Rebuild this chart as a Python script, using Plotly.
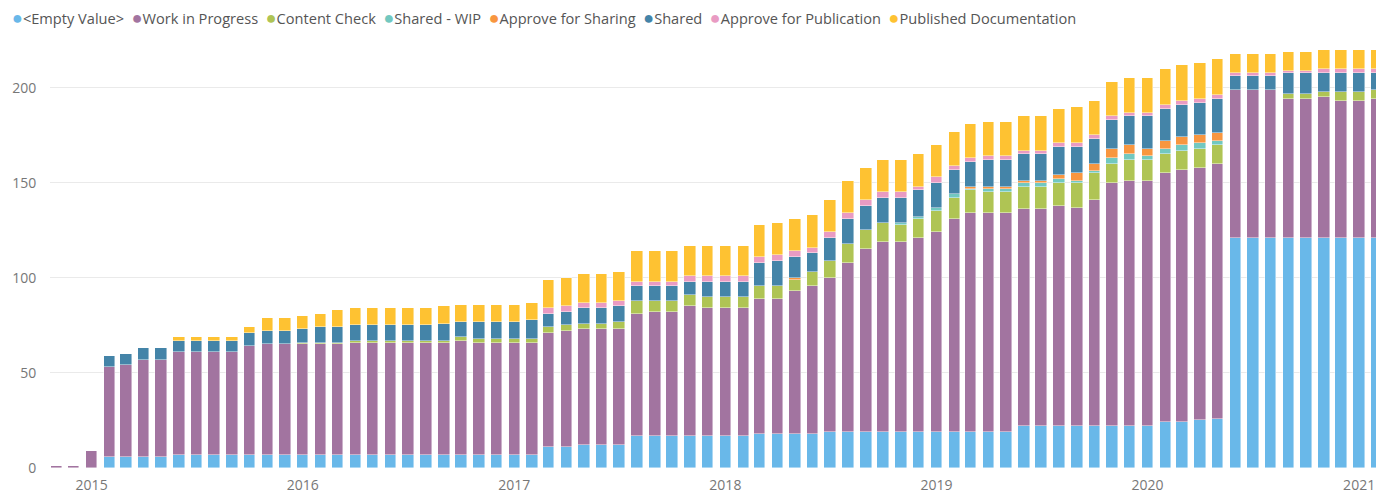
import pandas as pd
import plotly.graph_objects as go

months = pd.date_range("2014-11-01", periods=76, freq="MS")

empty_value = [0, 0, 0, 6, 6, 6, 6, 7, 7, 7, 7, 7, 7, 7,
               7, 7, 7, 7, 7, 7, 7, 7, 7, 7, 7, 7,
               7, 7, 11, 11, 12, 12, 12, 17, 17, 17, 17, 17,
               17, 17, 18, 18, 18, 18, 19, 19, 19, 19, 19, 19,
               19, 19, 19, 19, 19, 22, 22, 22, 22, 22, 22, 22,
               22, 24, 24, 25, 26, 121, 121, 121, 121, 121, 121, 121,
               121, 121]
work_in_progress = [1, 1, 9, 47, 48, 51, 51, 54, 54, 54, 54, 57, 58, 58,
                    58, 58, 58, 59, 59, 59, 59, 59, 59, 60, 59, 59,
                    59, 59, 60, 61, 61, 61, 61, 64, 65, 65, 68, 67,
                    67, 67, 71, 71, 75, 78, 81, 89, 96, 100, 100, 102,
                    105, 112, 115, 115, 115, 114, 114, 116, 115, 119, 128, 129,
                    129, 131, 133, 133, 134, 78, 78, 78, 73, 73, 74, 72,
                    72, 73]
content_check = [0] * 14 + [
    1, 1, 1, 1, 1, 1, 1, 1, 1, 2, 2, 2,
    2, 2, 3, 3, 3, 3, 4, 7, 6, 6, 6, 6,
    6, 6, 7, 7, 6, 7, 9, 10, 10, 10, 9, 10,
    11, 11, 12, 11, 11, 12, 12, 12, 13, 14, 10, 11,
    11, 10, 10, 10, 10, 0, 0, 0, 3, 3, 3, 5,
    5, 5]
shared_wip = [0] * 14 + [0] * 12 + [0] * 12 + [
    0, 0, 0, 0, 0, 0, 0, 0, 0, 0, 1, 1,
    2, 2, 1, 2, 2, 2, 2, 2, 1, 1, 3, 3,
    2, 3, 3, 3, 2, 0, 0, 0, 0, 0, 0, 0,
    0, 0]
approve_sharing = [0] * 14 + [0] * 12 + [0] * 12 + [
    0, 0, 0, 0, 1, 0, 0, 0, 0, 0, 0, 0,
    0, 0, 1, 1, 1, 1, 1, 2, 4, 4, 5, 5,
    4, 4, 4, 4, 4, 0, 0, 0, 0, 0, 0, 0,
    0, 0]
shared = [0, 0, 0, 6, 6, 6, 6, 6, 6, 6, 6, 7, 7, 7,
          7, 8, 8, 8, 8, 8, 8, 8, 9, 8, 9, 9,
          9, 10, 7, 7, 8, 8, 8, 8, 8, 8, 7, 8,
          8, 8, 12, 13, 11, 10, 12, 13, 13, 13, 13, 14,
          13, 13, 13, 14, 14, 14, 14, 15, 14, 13, 15, 15,
          17, 17, 17, 17, 18, 7, 7, 7, 11, 11, 10, 10,
          10, 9]
approve_publication = [0] * 14 + [0] * 12 + [
    0, 0, 3, 3, 3, 3, 3, 2, 2, 2, 3, 3,
    3, 3, 3, 3, 3, 3, 3, 3, 3, 3, 3, 2,
    3, 2, 2, 2, 2, 2, 2, 2, 2, 2, 2, 2,
    2, 2, 2, 2, 2, 2, 2, 2, 1, 1, 2, 2,
    2, 2]
published_documentation = [0, 0, 0, 0, 0, 0, 0, 2, 2, 2, 2, 3, 7, 7,
                           7, 7, 9, 9, 9, 9, 9, 9, 9, 9, 9, 9,
                           9, 9, 15, 15, 15, 15, 15, 16, 16, 16, 16, 16,
                           16, 16, 17, 17, 17, 17, 17, 17, 17, 17, 17, 17,
                           17, 18, 18, 18, 18, 18, 18, 18, 19, 18, 18, 18,
                           18, 19, 19, 19, 19, 10, 10, 10, 10, 10, 10, 10,
                           10, 10]

series_names = ["<Empty Value>", "Work in Progress", "Content Check", "Shared - WIP",
                "Approve for Sharing", "Shared", "Approve for Publication",
                "Published Documentation"]
series_values = [empty_value, work_in_progress, content_check, shared_wip,
                 approve_sharing, shared, approve_publication, published_documentation]
colors = ["#69B8E9", "#A274A0", "#AFC454", "#72C8C0", "#F8963F", "#4484A8", "#E99BC3", "#FEC232"]

FONT = "Open Sans"
fig = go.Figure()
for name, vals, col in zip(series_names, series_values, colors):
    fig.add_trace(go.Bar(
        x=months, y=vals, name=name, marker_color=col,
        marker_line=dict(color="rgba(255,255,255,0.55)", width=0.8),
        width=20 * 86400000, showlegend=False,
    ))

legend_parts = []
for name, col in zip(series_names, colors):
    safe = name.replace("<", "&lt;").replace(">", "&gt;")
    legend_parts.append(f"<span style='color:{col};font-size:18px'>●</span>{safe}")
legend_text = "&nbsp;&nbsp;".join(legend_parts)

fig.add_annotation(
    text=legend_text, xref="paper", yref="paper", x=-0.030, y=1.069,
    xanchor="left", yanchor="middle", showarrow=False,
    font=dict(family=FONT, size=14.6, color="#555555"), align="left",
)

# page body has an 8px margin; the figure is sized so the plot area lands where the reference has it
fig.update_layout(
    width=1376, height=490,
    margin=dict(l=42, r=0, t=38, b=30),
    barmode="stack", bargap=0,
    plot_bgcolor="white", paper_bgcolor="white",
    font=dict(family=FONT, size=14, color="#777777"),
    xaxis=dict(
        type="date", range=["2014-10-21", "2021-02-13"],
        dtick="M12", tick0="2015-01-01", tickformat="%Y",
        showgrid=False, zeroline=False, showline=False,
        ticks="outside", ticklen=4, tickcolor="rgba(0,0,0,0)",
        tickfont=dict(family=FONT, size=14, color="#777777"),
    ),
    yaxis=dict(
        range=[0, 222], tickvals=[0, 50, 100, 150, 200],
        showgrid=True, gridcolor="#EAEAEA", gridwidth=1,
        zeroline=False, showline=False,
        ticks="outside", ticklen=10, tickcolor="rgba(0,0,0,0)",
        tickfont=dict(family=FONT, size=14, color="#777777"),
    ),
)

fig.write_html("out.html")
